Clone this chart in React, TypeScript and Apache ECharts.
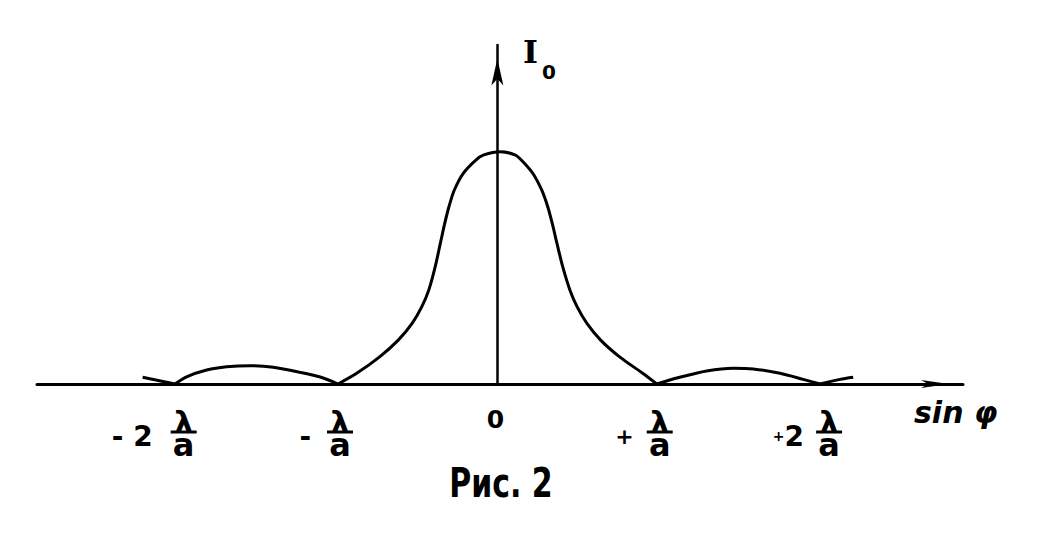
import React, { useEffect, useRef } from 'react';
import * as echarts from 'echarts';

// Curve values (x in units of λ/a, y relative to the central maximum)
const leftTailX = [-2.226, -2.023];
const leftTailY = [0.029, 0];
const leftLobeX = [-2.023, -1.95, -1.824, -1.699, -1.553, -1.406, -1.239, -1.093, -1.0];
const leftLobeY = [0, 0.031, 0.06, 0.074, 0.079, 0.072, 0.05, 0.026, 0];
const centralX = [-1.0, -0.883, -0.737, -0.622, -0.535, -0.474, -0.43, -0.39, -0.358, -0.33, -0.304, -0.27, -0.214, -0.135, -0.085, 0.02, 0.11, 0.15, 0.222, 0.278, 0.316, 0.344, 0.374, 0.41, 0.455, 0.5, 0.562, 0.648, 0.765, 0.912, 1.0];
const centralY = [0, 0.046, 0.118, 0.189, 0.261, 0.333, 0.405, 0.505, 0.605, 0.692, 0.763, 0.835, 0.907, 0.964, 0.986, 1.0, 0.986, 0.964, 0.907, 0.835, 0.763, 0.692, 0.605, 0.505, 0.405, 0.333, 0.261, 0.189, 0.118, 0.046, 0];
const rightLobeX = [1.0, 1.145, 1.313, 1.48, 1.606, 1.773, 1.919, 2.025];
const rightLobeY = [0, 0.029, 0.056, 0.068, 0.065, 0.046, 0.02, 0];
const rightTailX = [2.025, 2.15, 2.233];
const rightTailY = [0, 0.02, 0.029];

// Tick labels
const tickValues = [-2, -1, 1, 2];
const tickSigns = ['-', '-', '+', '+'];
const tickDigits = [' 2', '', '', '2'];
const fracNumerator = 'λ';
const fracDenominator = 'a';
const originValue = 0;
const originLabel = '0';
const xAxisName = 'sin φ';
const yAxisName = 'I';
const yAxisSub = '0';
const caption = 'Рис. 2';

// Layout (not data)
const layout = {
  fracOffsets: [5, 2, 3, 13],
  prefixRight: [-31, -29, -26, -25],
  signSizes: [28, 28, 22, 14],
  barY: 432,
  barHalf: 13,
};

function pairs(xs: number[], ys: number[]) {
  return xs.map((x, i) => [x, ys[i]]);
}

export default function App() {
  const ref = useRef<HTMLDivElement>(null);
  useEffect(() => {
    const chart = echarts.init(ref.current!, null, { renderer: 'svg' });
    const mk = (name: string, xs: number[], ys: number[]) => ({
      type: 'line',
      name,
      data: pairs(xs, ys),
      smooth: 0.3,
      showSymbol: false,
      symbol: 'none',
      clip: false,
      silent: true,
      lineStyle: { color: '#000', width: 3 },
    });
    chart.setOption({
      animation: false,
      backgroundColor: '#fff',
      grid: { left: 37, right: 98, top: 45, bottom: 171, containLabel: false, outerBoundsMode: 'none' },
      xAxis: {
        type: 'value',
        min: -2.889,
        max: 2.922,
        axisLine: {
          show: true,
          onZero: true,
          symbol: ['none', 'arrow'],
          symbolSize: [6, 28],
          symbolOffset: [0, -14],
          lineStyle: { color: '#000', width: 3 },
        },
        axisTick: { show: false },
        axisLabel: { show: false },
        splitLine: { show: false },
      },
      yAxis: {
        type: 'value',
        min: 0,
        max: 1.459,
        axisLine: {
          show: true,
          onZero: true,
          symbol: ['none', 'arrow'],
          symbolSize: [9, 27],
          symbolOffset: [0, -13.5],
          lineStyle: { color: '#000', width: 2.5 },
        },
        axisTick: { show: false },
        axisLabel: { show: false },
        splitLine: { show: false },
      },
      series: [
        mk('leftTail', leftTailX, leftTailY),
        mk('leftLobe', leftLobeX, leftLobeY),
        mk('central', centralX, centralY),
        mk('rightLobe', rightLobeX, rightLobeY),
        mk('rightTail', rightTailX, rightTailY),
      ],
    });

    const font = { fontFamily: 'DejaVu Sans', fontWeight: 'bold', fill: '#000' };
    const g: any[] = [];
    tickValues.forEach((v, i) => {
      const p = chart.convertToPixel({ gridIndex: 0 }, [v, 0]) as number[];
      const fx = p[0] + layout.fracOffsets[i];
      const by = layout.barY;
      g.push({
        type: 'text', x: fx, y: by - 22, silent: true,
        style: {
          text: `{n|${fracNumerator}}\n{d|${fracDenominator}}`,
          align: 'center',
          verticalAlign: 'top',
          rich: {
            n: { fontFamily: 'DejaVu Sans', fontWeight: 'bold', fontSize: 30, lineHeight: 24, fill: '#000', align: 'center' },
            d: { fontFamily: 'DejaVu Sans', fontWeight: 'bold', fontSize: 32, lineHeight: 22, fill: '#000', align: 'center' },
          },
        },
      });
      g.push({
        type: 'line', silent: true,
        shape: { x1: fx - layout.barHalf, y1: by, x2: fx + layout.barHalf, y2: by },
        style: { stroke: '#000', lineWidth: 3 },
      });
      const rich: any = {
        s: { fontFamily: 'DejaVu Sans', fontWeight: 'bold', fontSize: layout.signSizes[i], fill: '#000' },
        d: { fontFamily: 'DejaVu Sans', fontWeight: 'bold', fontSize: 28, fill: '#000' },
      };
      const txt = tickDigits[i] ? `{s|${tickSigns[i]}}{d|${tickDigits[i]}}` : `{s|${tickSigns[i]}}`;
      g.push({
        type: 'text', x: fx + layout.prefixRight[i], y: by + 4, silent: true,
        style: { text: txt, rich, align: 'right', verticalAlign: 'middle' },
      });
    });
    const o = chart.convertToPixel({ gridIndex: 0 }, [originValue, 0]) as number[];
    g.push({
      type: 'text', x: o[0] - 2, y: o[1] + 35, silent: true,
      style: { ...font, text: originLabel, fontSize: 25, align: 'center', verticalAlign: 'middle' },
    });
    g.push({
      type: 'text', x: 914, y: 412, silent: true,
      style: { ...font, fontStyle: 'italic', text: xAxisName, fontSize: 30, align: 'left', verticalAlign: 'middle' },
    });
    g.push({
      type: 'text', x: 523, y: 52, silent: true,
      style: { fontFamily: 'DejaVu Serif', fontWeight: 'bold', fill: '#000', text: yAxisName, fontSize: 32, align: 'left', verticalAlign: 'middle' },
    });
    g.push({
      type: 'text', x: 542, y: 72, silent: true,
      style: { ...font, text: yAxisSub, fontSize: 20, align: 'left', verticalAlign: 'middle' },
    });
    g.push({
      type: 'text', x: 501, y: 483, scaleX: 0.75, silent: true,
      style: { ...font, text: caption, fontSize: 40, align: 'center', verticalAlign: 'middle' },
    });
    chart.setOption({ graphic: g });

    return () => chart.dispose();
  }, []);
  return <div ref={ref} style={{ position: 'absolute', left: 0, top: 0, width: 1061, height: 555 }} />;
}
